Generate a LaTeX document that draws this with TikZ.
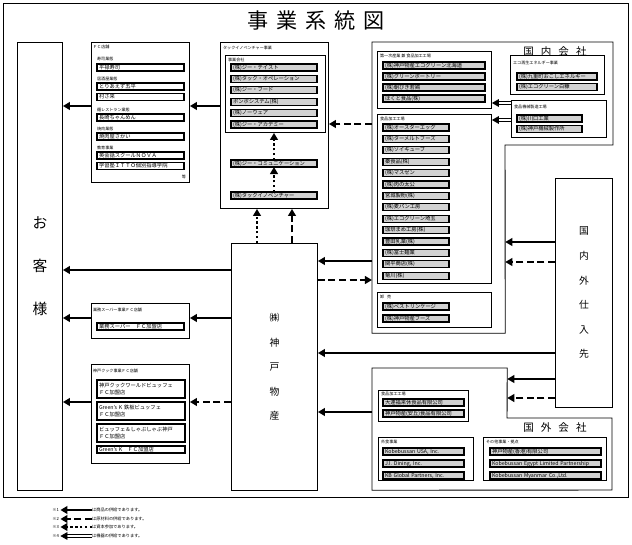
\documentclass[tikz,border=0pt]{standalone}
\usepackage{fontspec}
\setmainfont{Noto Sans CJK JP}
\usetikzlibrary{arrows.meta, positioning}

\begin{document}
\begin{tikzpicture}[x=0.5mm, y=-0.5mm]
        % Define block styles
        \tikzstyle{groupbox} = [draw, line width=1.3pt, anchor=north west, inner sep=0pt]
        \tikzstyle{grouplabel} = [anchor=west, inner sep=0pt, font=\fontsize{5.8}{7}\selectfont]
        \tikzstyle{itembase} = [draw, line width=1.8pt, anchor=north west, inner xsep=1mm, inner ysep=0pt, outer sep=0pt, minimum height=3.5mm, align=left, font=\fontsize{7.5}{9}\selectfont]
        \tikzstyle{grayitem} = [itembase, fill=gray!35, text height=5.6pt, text depth=1.3pt]
        \tikzstyle{whiteitem} = [itembase, fill=white, text height=5.6pt, text depth=1.3pt]
        \tikzstyle{fcitem} = [whiteitem, text width=41.5mm]
        \tikzstyle{cookitem} = [itembase, fill=white, text width=42mm, minimum height=9mm, font=\fontsize{7.5}{11}\selectfont]
        \tikzstyle{tackitem} = [grayitem, text width=41mm]
        \tikzstyle{firstitem} = [grayitem, text width=49mm]
        \tikzstyle{ecoitem} = [grayitem, text width=38mm]
        \tikzstyle{kikaiitem} = [grayitem, text width=30.5mm]
        \tikzstyle{kakoitem} = [grayitem, text width=31mm]
        \tikzstyle{abroaditem} = [grayitem, text width=38.5mm]
        \tikzstyle{sonotaitem} = [grayitem, text width=53.5mm]
        \tikzstyle{vtext} = [align=center, inner sep=0pt, font=\fontsize{14}{35}\selectfont]
        \tikzstyle{legendtext} = [inner sep=0pt, font=\fontsize{6}{7}\selectfont]
        \tikzstyle{line} = [draw, line width=3.4pt, -{Triangle[length=10pt, width=11pt]}]
        \tikzstyle{dashline} = [line, dash pattern=on 10pt off 5pt]
        \tikzstyle{dotline} = [line, dash pattern=on 3.4pt off 3.4pt]
        \tikzstyle{dblline} = [draw, double, line width=1.1pt, double distance=2.2pt, -{Triangle[length=10pt, width=11pt]}]

        \useasboundingbox (0,0) rectangle (632,545);
        \draw[line width=1pt] (3,3) rectangle (628,497);

        % Title
        \node[font=\fontsize{30}{30}\selectfont] (title) at (316,21) {事\hspace{4mm}業\hspace{4mm}系\hspace{4mm}統\hspace{4mm}図};

        % Customers
        \node[groupbox, minimum width=22.5mm, minimum height=224mm] (kyaku) at (17,42) {};
        \node[vtext, font=\fontsize{21}{61}\selectfont] (kyakutext) at (kyaku.center) {お\\客\\様};

        % FC stores
        \node[groupbox, minimum width=49mm, minimum height=70mm] (fc) at (91,42) {};
        \node[grouplabel] (fclabel) at (93,47) {ＦＣ店舗};
        \node[grouplabel] (sushi) at (97,59) {寿司業態};
        \node[fcitem] (fc1) at (97,64) {平禄寿司};
        \node[grouplabel] (izakaya) at (97,79) {居酒屋業態};
        \node[fcitem] (fc2) at (97,83) {とりあえず五平};
        \node[fcitem, below=1.6mm of fc2] (fc3) {村さ来};
        \node[grouplabel] (men) at (97,110) {麺レストラン業態};
        \node[fcitem] (fc4) at (97,114) {長崎ちゃんめん};
        \node[grouplabel] (yakiniku) at (97,129) {焼肉業態};
        \node[fcitem] (fc5) at (97,133) {焼肉屋さかい};
        \node[grouplabel] (kyoiku) at (97,148) {教育事業};
        \node[fcitem] (fc6) at (97,152) {英会話スクールＮＯＶＡ};
        \node[fcitem, below=1.8mm of fc6] (fc7) {学習塾ＩＴＴＯ個別指導学院};
        \node[grouplabel, anchor=east] (etc) at (186,177) {等};

        % Tack innoventure
        \node[groupbox, minimum width=54mm, minimum height=83mm] (tack) at (220,42) {};
        \node[grouplabel] (tacklabel) at (223,48) {タックイノベンチャー事業};
        \node[groupbox, minimum width=50mm, minimum height=38.5mm] (jigyo) at (225,55) {};
        \node[grouplabel] (jigyolabel) at (228,60) {事業会社};
        \node[tackitem] (tk1) at (231,64) {(株)ジー・テイスト};
        \node[tackitem, below=2.2mm of tk1] (tk2) {(株)タック・オペレーション};
        \node[tackitem, below=2.2mm of tk2] (tk3) {(株)ジー・フード};
        \node[tackitem, below=2.2mm of tk3] (tk4) {ボンボシステム(株)};
        \node[tackitem, below=2.2mm of tk4] (tk5) {(株)ノーウェア};
        \node[tackitem, below=2.2mm of tk5] (tk6) {(株)ジー・アカデミー};
        \node[tackitem] (comm) at (231,160) {(株)ジー・コミュニケーション};
        \node[tackitem] (tackinv) at (231,192) {(株)タックイノベンチャー};

        % Kobe Bussan
        \node[groupbox, minimum width=43mm, minimum height=123.5mm] (kobe) at (231,243) {};
        \node[vtext] (kobetext) at (kobe.center) {㈱\\神\\戸\\物\\産};

        % Gyomu super
        \node[groupbox, minimum width=49mm, minimum height=17.5mm] (gyomu) at (91,303) {};
        \node[grouplabel] (gyomulabel) at (93,310) {業務スーパー事業ＦＣ店舗};
        \node[fcitem] (gy1) at (97,323) {業務スーパー　ＦＣ加盟店};

        % Kobe cook
        \node[groupbox, minimum width=49mm, minimum height=49.5mm] (cook) at (91,364) {};
        \node[grouplabel] (cooklabel) at (93,371) {神戸クック事業ＦＣ店舗};
        \node[cookitem] (ck1) at (97,380) {神戸クックワールドビュッフェ\\ＦＣ加盟店};
        \node[cookitem, below=2mm of ck1] (ck2) {Green’s K 鉄板ビュッフェ\\ＦＣ加盟店};
        \node[cookitem, below=2mm of ck2] (ck3) {ビュッフェ＆しゃぶしゃぶ神戸\\ＦＣ加盟店};
        \node[fcitem, text width=42mm, below=2mm of ck3] (ck4) {Green’s K　ＦＣ加盟店};

        % Domestic companies
        \node[inner sep=0pt, minimum width=66.5mm, minimum height=145.5mm, anchor=north west] (dom) at (372,42) {};
        \draw[line width=1.3pt] (dom.north west) -- (613,42) -- (613,145) -- (505,145) -- (dom.south east) -- (dom.south west) -- cycle;
        \node[font=\fontsize{15}{15}\selectfont] (domlabel) at (555,52) {国\hspace{3.5mm}内\hspace{3.5mm}会\hspace{3.5mm}社};

        \node[groupbox, minimum width=57mm, minimum height=28.5mm] (first) at (377,51) {};
        \node[grouplabel] (firstlabel) at (380,56) {第一次産業 兼 食品加工工場};
        \node[firstitem] (fi1) at (383,62) {(株)神戸物産エコグリーン北海道};
        \node[firstitem, below=2mm of fi1] (fi2) {(株)グリーンポートリー};
        \node[firstitem, below=2mm of fi2] (fi3) {(株)朝びき若鶏};
        \node[firstitem, below=2mm of fi3] (fi4) {ほくと食品(株)};

        \node[groupbox, minimum width=47mm, minimum height=19.5mm] (eco) at (510,55) {};
        \node[grouplabel] (ecolabel) at (513,63) {エコ再生エネルギー事業};
        \node[ecoitem] (ec1) at (517,73) {(株)九重町おこしエネルギー};
        \node[ecoitem, below=1.7mm of ec1] (ec2) {(株)エコグリーン白糠};

        \node[groupbox, minimum width=47.5mm, minimum height=18.5mm] (kikai) at (511,100) {};
        \node[grouplabel] (kikailabel) at (514,107) {食品機械製造工場};
        \node[kikaiitem] (ki1) at (517,115) {(株)川口工業};
        \node[kikaiitem, below=1.8mm of ki1] (ki2) {(株)神戸機械製作所};

        \node[groupbox, minimum width=57mm, minimum height=84.5mm] (kako) at (377,114) {};
        \node[grouplabel] (kakolabel) at (380,119) {食品加工工場};
        \node[kakoitem] (ka1) at (383,124) {(株)オースターエッグ};
        \node[kakoitem, below=2.2mm of ka1] (ka2) {(株)ターメルトフーズ};
        \node[kakoitem, below=2.2mm of ka2] (ka3) {(株)ソイキューブ};
        \node[kakoitem, below=2.2mm of ka3] (ka4) {秦食品(株)};
        \node[kakoitem, below=2.2mm of ka4] (ka5) {(株)マスゼン};
        \node[kakoitem, below=2.2mm of ka5] (ka6) {(株)肉の太公};
        \node[kakoitem, below=2.2mm of ka6] (ka7) {宮城製粉(株)};
        \node[kakoitem, below=2.2mm of ka7] (ka8) {(株)麦パン工房};
        \node[kakoitem, below=2.2mm of ka8] (ka9) {(株)エコグリーン埼玉};
        \node[kakoitem, below=2.2mm of ka9] (ka10) {珈琲まめ工房(株)};
        \node[kakoitem, below=2.2mm of ka10] (ka11) {豊田乳業(株)};
        \node[kakoitem, below=2.2mm of ka11] (ka12) {(株)富士麺業};
        \node[kakoitem, below=2.2mm of ka12] (ka13) {関平商店(株)};
        \node[kakoitem, below=2.2mm of ka13] (ka14) {菊川(株)};

        \node[groupbox, minimum width=57mm, minimum height=17.5mm] (oroshi) at (377,292) {};
        \node[grouplabel] (oroshilabel) at (380,297) {卸\hspace{1.5mm}売};
        \node[kakoitem] (or1) at (383,303) {(株)ベストリンケージ};
        \node[kakoitem, below=2.5mm of or1] (or2) {(株)神戸物産フーズ};

        % Suppliers
        \node[groupbox, minimum width=28.5mm, minimum height=114.5mm] (supp) at (555,178) {};
        \node[vtext] (supptext) at (supp.center) {国\\内\\外\\仕\\入\\先};

        % Overseas companies
        \node[inner sep=0pt, minimum width=67.5mm, minimum height=61mm, anchor=north west] (abroad) at (372,368) {};
        \draw[line width=1.3pt] (abroad.north west) -- (abroad.north east) -- (507,418) -- (612,418) -- (612,490) -- (abroad.south west) -- cycle;
        \node[font=\fontsize{15}{15}\selectfont] (abroadlabel) at (555,428) {国\hspace{3.5mm}外\hspace{3.5mm}会\hspace{3.5mm}社};

        \node[groupbox, minimum width=45mm, minimum height=15.5mm] (okako) at (378,390) {};
        \node[grouplabel] (okakolabel) at (381,394) {食品加工工場};
        \node[abroaditem] (ok1) at (383,399) {大連福来休食品有限公司};
        \node[abroaditem, below=2mm of ok1] (ok2) {神戸物産(安丘)食品有限公司};

        \node[groupbox, minimum width=47.5mm, minimum height=21.5mm] (gaishoku) at (378,437) {};
        \node[grouplabel] (gaishokulabel) at (381,442) {外食事業};
        \node[abroaditem] (ga1) at (383,448) {Kobebussan USA, Inc.};
        \node[abroaditem, below=2.5mm of ga1] (ga2) {J.I. Dining, Inc.};
        \node[abroaditem, below=2.5mm of ga2] (ga3) {KB Global Partners, Inc.};

        \node[groupbox, minimum width=61.5mm, minimum height=21.5mm] (sonota) at (483,437) {};
        \node[grouplabel] (sonotalabel) at (486,442) {その他事業・拠点};
        \node[sonotaitem] (so1) at (490,448) {神戸物産(香港)有限公司};
        \node[sonotaitem, below=2.5mm of so1] (so2) {Kobebussan Egypt Limited Partnership};
        \node[sonotaitem, below=2.5mm of so2] (so3) {Kobebussan Myanmar Co.,Ltd.};

        % Levels for connectors
        \coordinate (lvfc) at (0,106);
        \coordinate (lvtack) at (0,124);
        \coordinate (lvkyaku) at (0,270);
        \coordinate (lvgyomu) at (0,318);
        \coordinate (lvcook) at (0,402);
        \coordinate (lvdomin) at (0,261);
        \coordinate (lvdomout) at (0,280);
        \coordinate (lvsupp) at (0,353);
        \coordinate (lvdomsol) at (0,242);
        \coordinate (lvdomdash) at (0,262);
        \coordinate (lvabsol) at (0,379);
        \coordinate (lvabdash) at (0,398);
        \coordinate (lvabkobe) at (0,412);
        \coordinate (lvkikai1) at (0,103);
        \coordinate (lvkikai2) at (0,120);
        \coordinate (xcap) at (257,0);
        \coordinate (xmat) at (292,0);

        % Connect nodes with paths
        \path [line] (fc.west |- lvfc) -- (kyaku.east |- lvfc);
        \path [line] (tack.west |- lvfc) -- (fc.east |- lvfc);
        \path [line] (kobe.west |- lvkyaku) -- (kyaku.east |- lvkyaku);
        \path [line] (gyomu.west |- lvgyomu) -- (kyaku.east |- lvgyomu);
        \path [line] (kobe.west |- lvgyomu) -- (gyomu.east |- lvgyomu);
        \path [line] (cook.west |- lvcook) -- (kyaku.east |- lvcook);
        \path [dashline] (kobe.west |- lvcook) -- (cook.east |- lvcook);
        \path [dotline] (kobe.north -| xcap) -- (tack.south -| xcap);
        \path [dashline] (kobe.north -| xmat) -- (tack.south -| xmat);
        \path [dotline] (tackinv.north) -- (comm.south);
        \path [dotline] (comm.north) -- (jigyo.south -| comm.north);
        \path [dashline] (dom.west |- lvtack) -- (tack.east |- lvtack);
        \path [line] (dom.west |- lvdomin) -- (kobe.east |- lvdomin);
        \path [dashline] (kobe.east |- lvdomout) -- (dom.west |- lvdomout);
        \path [line] (supp.west |- lvsupp) -- (kobe.east |- lvsupp);
        \path [line] (supp.west |- lvdomsol) -- (dom.east |- lvdomsol);
        \path [dashline] (supp.west |- lvdomdash) -- (dom.east |- lvdomdash);
        \path [line] (supp.west |- lvabsol) -- (abroad.east |- lvabsol);
        \path [dashline] (supp.west |- lvabdash) -- (abroad.east |- lvabdash);
        \path [line] (abroad.west |- lvabkobe) -- (kobe.east |- lvabkobe);
        \path [dblline] (kikai.west |- lvkikai1) -- (first.east |- lvkikai1);
        \path [dblline] (kikai.west |- lvkikai2) -- (kako.east |- lvkikai2);

        % Legend
        \foreach \n/\yy/\kind/\txt in {1/510/line/は商品の供給であります。, 2/519/dashline/は原材料の供給であります。, 3/527/dotline/は資本参加であります。, 4/536/dblline/は機器の供給であります。} {
            \node[legendtext, anchor=east] (mark\n) at (59,\yy) {※\n};
            \node[legendtext, anchor=west] (note\n) at (92,\yy) {\txt};
            \path [\kind] (note\n.west) -- ([xshift=2pt]mark\n.east);
        }

    \end{tikzpicture}
\end{document}
